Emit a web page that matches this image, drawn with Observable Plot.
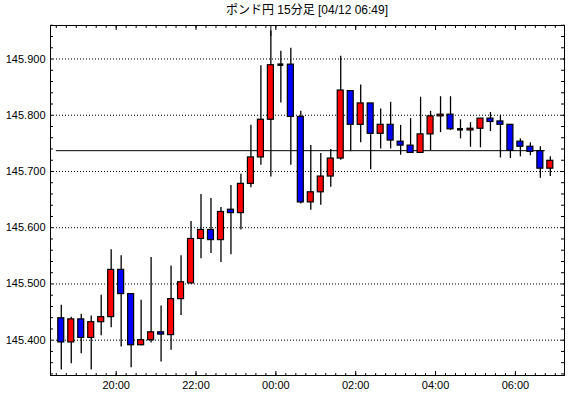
<!DOCTYPE html>
<html>
<head>
<meta charset="utf-8">
<script src="https://cdn.jsdelivr.net/npm/d3@7"></script>
<script src="https://cdn.jsdelivr.net/npm/@observablehq/plot@0.6"></script>
<style>
  html, body { margin: 0; padding: 0; background: #fff; }
  #title { width: 514px; height: 20px; padding-left: 50px; line-height: 23px; text-align: center;
           font: 12px "Liberation Sans", "Noto Sans CJK JP", sans-serif; color: #000; white-space: nowrap; }
  #chart svg { display: block; }
</style>
</head>
<body>
<div id="title">ポンド円 15分足 [04/12 06:49]</div>
<div id="chart"></div>
<script>
const titleText = "ポンド円 15分足 [04/12 06:49]";
const times = ["18:30","18:45","19:00","19:15","19:30","19:45","20:00","20:15","20:30","20:45",
               "21:00","21:15","21:30","21:45","22:00","22:15","22:30","22:45","23:00","23:15",
               "23:30","23:45","00:00","00:15","00:30","00:45","01:00","01:15","01:30","01:45",
               "02:00","02:15","02:30","02:45","03:00","03:15","03:30","03:45","04:00","04:15",
               "04:30","04:45","05:00","05:15","05:30","05:45","06:00","06:15","06:30","06:45"];
const opens  = [145.439,145.396,145.437,145.404,145.432,145.441,145.525,145.482,145.391,145.400,
                145.414,145.409,145.473,145.501,145.580,145.596,145.578,145.632,145.626,145.678,
                145.725,145.792,145.890,145.890,145.797,145.645,145.663,145.691,145.723,145.843,
                145.783,145.821,145.767,145.783,145.753,145.746,145.733,145.766,145.798,145.801,
                145.775,145.773,145.776,145.794,145.789,145.783,145.753,145.744,145.736,145.705];
const highs  = [145.462,145.441,145.446,145.443,145.480,145.561,145.550,145.483,145.471,145.547,
                145.461,145.532,145.550,145.611,145.659,145.652,145.636,145.675,145.695,145.782,
                145.888,145.950,145.914,145.919,145.807,145.746,145.732,145.739,145.905,145.843,
                145.854,145.821,145.811,145.823,145.782,145.794,145.832,145.807,145.833,145.833,
                145.792,145.787,145.794,145.805,145.800,145.783,145.758,145.751,145.744,145.726];
const lows   = [145.347,145.358,145.376,145.347,145.408,145.422,145.388,145.351,145.390,145.395,
                145.361,145.382,145.444,145.500,145.545,145.554,145.538,145.552,145.596,145.671,
                145.711,145.690,145.822,145.711,145.642,145.631,145.640,145.672,145.720,145.735,
                145.751,145.703,145.740,145.740,145.729,145.733,145.733,145.737,145.769,145.773,
                145.758,145.743,145.742,145.771,145.724,145.723,145.726,145.728,145.688,145.691];
const closes = [145.396,145.437,145.404,145.432,145.441,145.525,145.482,145.391,145.400,145.414,
                145.410,145.473,145.503,145.580,145.596,145.578,145.628,145.626,145.678,145.725,
                145.792,145.889,145.890,145.797,145.645,145.663,145.691,145.723,145.844,145.783,
                145.821,145.767,145.783,145.755,145.746,145.733,145.766,145.798,145.801,145.775,
                145.775,145.776,145.794,145.788,145.783,145.737,145.744,145.735,145.705,145.719];
const yGridTicks = [145.4, 145.5, 145.6, 145.7, 145.8, 145.9];
const xLabelTicks = ["20:00", "22:00", "00:00", "02:00", "04:00", "06:00"];
const refLevel = 145.737;
const refStart = "18:30", refEnd = "06:45";

const MIN = 60000;
function toDate(s, sec = 0) {
  const [h, m] = s.split(":").map(Number);
  const day = h >= 12 ? 11 : 12;
  return new Date(Date.UTC(2024, 3, day, h, m, sec));
}
const slot = 15 * MIN;
const data = times.map((t, i) => {
  const s = +toDate(t);
  return {t: new Date(s + slot / 2), x1: new Date(s + slot / 2 - 4.5 * MIN), x2: new Date(s + slot / 2 + 4.5 * MIN),
          open: opens[i], high: highs[i], low: lows[i], close: closes[i]};
});
const up = data.filter(d => d.close > d.open);
const down = data.filter(d => d.close < d.open);
const doji = data.filter(d => d.close === d.open);

const xDomain = [toDate("18:21", 18), toDate("07:13", 48)];
const yDomain = [145.3372, 145.9596];
const xMinor = d3.utcMinute.every(15).range(toDate("18:30"), toDate("07:13"));
const xMajor = xLabelTicks.map(s => toDate(s));
const yMinor = d3.range(0, 32).map(k => 145.34 + 0.02 * k);
const fmt = d3.utcFormat("%H:%M");

const chart = Plot.plot({
  width: 570, height: 378,
  marginTop: 5, marginBottom: 23, marginLeft: 50, marginRight: 6,
  style: {fontFamily: "'Liberation Sans', sans-serif", fontSize: "11px", color: "#000", background: "#fff"},
  x: {type: "utc", domain: xDomain},
  y: {domain: yDomain},
  marks: [
    Plot.ruleY(yGridTicks, {stroke: "#000", strokeDasharray: "1,2"}),
    Plot.ruleY([refLevel], {x1: toDate(refStart), x2: toDate(refEnd), stroke: "#000", strokeWidth: 1}),
    Plot.ruleX(data, {x: "t", y1: "low", y2: "high", stroke: "#000", strokeWidth: 1.3}),
    Plot.rect(up, {x1: "x1", x2: "x2", y1: "open", y2: "close", fill: "#ff0000", stroke: "#000", strokeWidth: 1.2}),
    Plot.rect(down, {x1: "x1", x2: "x2", y1: "open", y2: "close", fill: "#0000ff", stroke: "#000", strokeWidth: 1.2}),
    Plot.ruleY(doji, {y: "close", x1: "x1", x2: "x2", stroke: "#000", strokeWidth: 2.5}),
    Plot.axisY(yMinor, {anchor: "left", tickSize: -3, fill: "none", label: null}),
    Plot.axisY(yMinor, {anchor: "right", tickSize: -4, fill: "none", label: null}),
    Plot.axisY(yGridTicks, {anchor: "left", tickSize: 0, tickPadding: 5, tickFormat: d => d.toFixed(3), label: null}),
    Plot.axisX(xMinor, {anchor: "bottom", tickSize: -2, fill: "none", label: null}),
    Plot.axisX(xMajor, {anchor: "bottom", tickSize: -4, fill: "none", label: null}),
    Plot.axisX(xMajor, {anchor: "bottom", tickSize: 0, tickPadding: 6, tickFormat: fmt, label: null}),
    Plot.axisX(xMinor, {anchor: "top", tickSize: -2, fill: "none", label: null}),
    Plot.axisX(xMajor, {anchor: "top", tickSize: -4, fill: "none", label: null}),
    Plot.axisX([toDate("23:52", 30)], {anchor: "top", tickSize: -10, fill: "none", label: null}),
    Plot.frame({stroke: "#000"})
  ]
});
document.getElementById("chart").appendChild(chart);
</script>
</body>
</html>
